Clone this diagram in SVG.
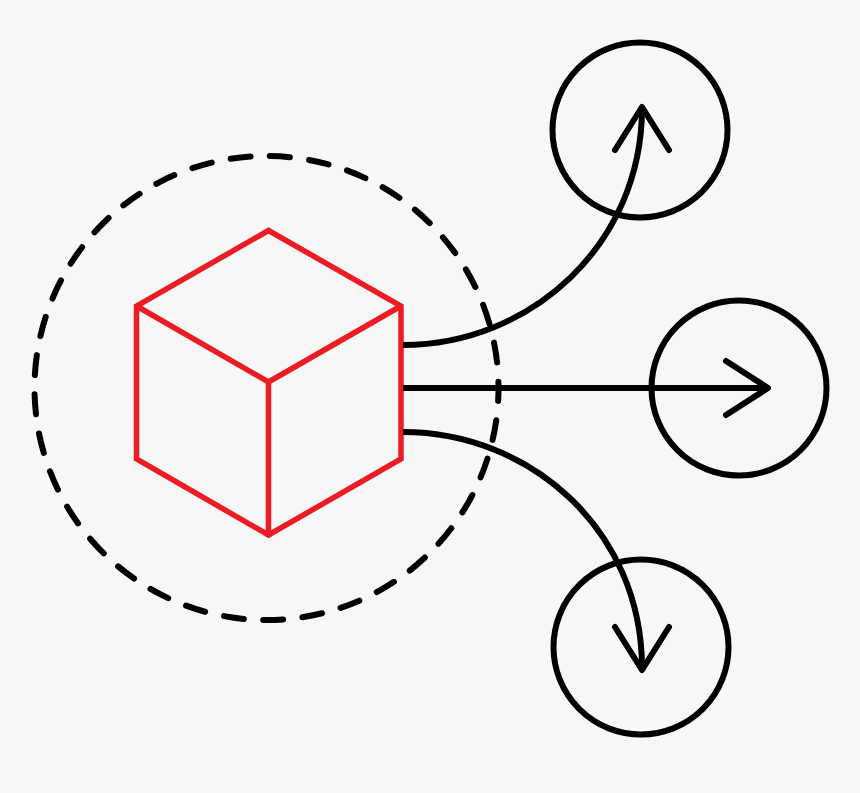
<svg xmlns="http://www.w3.org/2000/svg" width="860" height="793" viewBox="0 0 860 793">
<style>
.k{fill:none;stroke:#000;stroke-width:6;stroke-linecap:round;stroke-linejoin:round}
.c{stroke-linecap:butt}
.d{fill:none;stroke:#000;stroke-width:6;stroke-linecap:round;stroke-dasharray:20 19.400;stroke-dashoffset:7}
.r{fill:none;stroke:#ed1c24;stroke-width:5.500;stroke-linejoin:miter}
</style>
<rect width="860" height="793" fill="#f7f7f7"/>
<g id="boundary"><circle class="d" cx="266.500" cy="388" r="232"/></g>
<g id="cube">
<path class="r" d="M268.500 230.500L401 306V459L268.500 535L136.500 459V306Z"/>
<path class="r" d="M136.500 306L268.500 382L401 306M268.500 382V535"/>
</g>
<g id="target-top"><circle class="k" cx="640" cy="130" r="87.500"/></g>
<g id="target-middle"><circle class="k" cx="739" cy="388" r="87.500"/></g>
<g id="target-bottom"><circle class="k" cx="641" cy="647" r="87.500"/></g>
<g id="connectors">
<path class="k c" d="M403 345C530 345 642 245 642 108"/>
<path class="k" d="M615 150L642 107L669 150"/>
<path class="k c" d="M403 388H767"/>
<path class="k" d="M726 361L768 388L726 415"/>
<path class="k c" d="M403 432C530 432 642 530 642 668"/>
<path class="k" d="M615 627L642 670L669 627"/>
</g>
</svg>
